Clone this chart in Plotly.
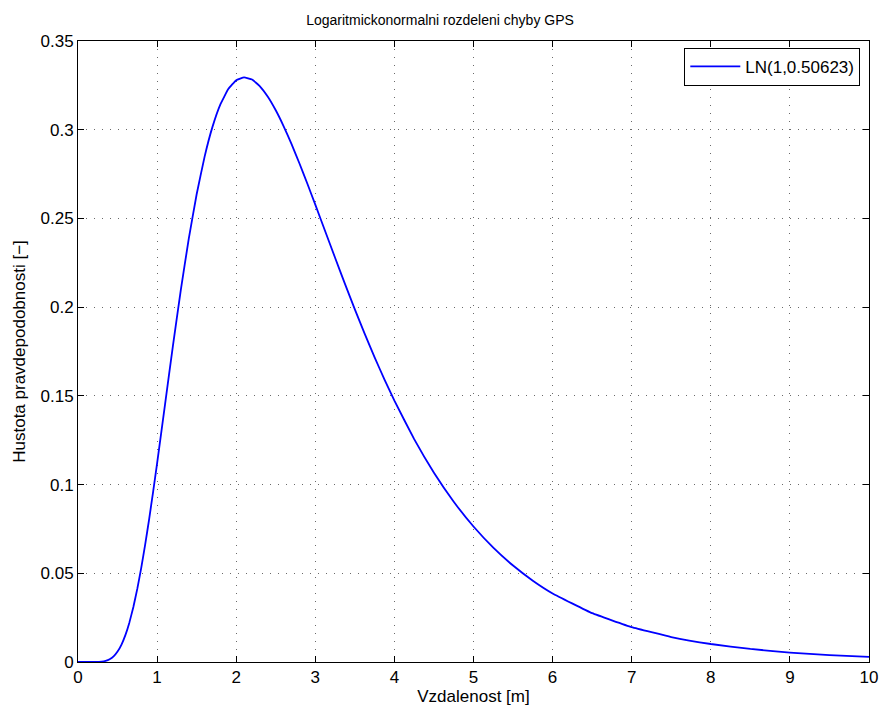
import plotly.graph_objects as go

# Lognormal density LN(1, 0.50623), sampled points
distance_m = [0, 0.1, 0.2, 0.3, 0.35, 0.4, 0.45, 0.5, 0.55, 0.6, 0.65, 0.7, 0.75, 0.8,
              0.85, 0.9, 0.95, 1.0, 1.1, 1.2, 1.3, 1.4, 1.5, 1.6, 1.7, 1.8, 1.9,
              2.0, 2.1, 2.2, 2.3, 2.4, 2.5, 2.6, 2.7, 2.8, 2.9, 3.0, 3.125, 3.25,
              3.375, 3.5, 3.625, 3.75, 3.875, 4.0, 4.25, 4.5, 4.75, 5.0, 5.25, 5.5,
              5.75, 6.0, 6.5, 7.0, 7.5, 8.0, 8.5, 9.0, 9.5, 10.0]
density = [0.0, 0.0, 0.000007, 0.0002, 0.00062, 0.00152, 0.00318, 0.00587, 0.00983,
           0.01529, 0.02233, 0.03104, 0.04135, 0.05319, 0.06638, 0.08072, 0.09604,
           0.1120, 0.14509, 0.17818, 0.20970, 0.23844, 0.26361, 0.28472, 0.30160,
           0.31428, 0.32292, 0.32791, 0.32955, 0.32826, 0.32447, 0.31857, 0.31095,
           0.30193, 0.29185, 0.28097, 0.26954, 0.25775, 0.24280, 0.22784, 0.21311,
           0.19877, 0.18495, 0.17172, 0.15913, 0.14726, 0.12559, 0.10667, 0.09034,
           0.07636, 0.06446, 0.05437, 0.04585, 0.03866, 0.02752, 0.01965, 0.01408,
           0.01014, 0.00734, 0.00534, 0.00391, 0.00288]

x_ticks = list(range(0, 11))
y_ticks = [0, 0.05, 0.1, 0.15, 0.2, 0.25, 0.3, 0.35]
y_tick_text = ["0", "0.05", "0.1", "0.15", "0.2", "0.25", "0.3", "0.35"]

font_family = "Liberation Sans, Arial, Helvetica, sans-serif"

fig = go.Figure()
fig.add_trace(go.Scatter(
    x=distance_m, y=density, mode="lines",
    line=dict(color="#0000ff", width=1.8, shape="spline", smoothing=0.3),
    name="LN(1,0.50623)",
))

axis_common = dict(
    showline=True, linecolor="black", linewidth=1, mirror="ticks",
    ticks="inside", ticklen=6, tickcolor="black",
    showgrid=True, gridcolor="#6a6a6a", griddash="1px,7px", gridwidth=1,
    zeroline=False, automargin=False,
    tickfont=dict(size=17, color="black", family=font_family),
)

fig.update_layout(
    width=880, height=709,
    paper_bgcolor="white", plot_bgcolor="white",
    margin=dict(l=78, r=11, t=41, b=47),
    font=dict(family=font_family, color="black"),
    title=dict(text="Logaritmickonormalni rozdeleni chyby GPS", x=0.5, xanchor="center",
               y=0.972, yanchor="middle", font=dict(size=14)),
    xaxis=dict(range=[0, 10], tickvals=x_ticks,
               title=dict(text="Vzdalenost [m]", font=dict(size=17), standoff=2),
               **axis_common),
    yaxis=dict(range=[0, 0.35], tickvals=y_ticks, ticktext=y_tick_text,
               title=dict(text="Hustota pravdepodobnosti [\u2212]", font=dict(size=17), standoff=10),
               **axis_common),
    showlegend=True,
    legend=dict(x=0.989, y=0.989, xanchor="right", yanchor="top",
                bgcolor="white", bordercolor="black", borderwidth=1,
                font=dict(size=17), itemwidth=50),
)

fig.write_html("out.html")
